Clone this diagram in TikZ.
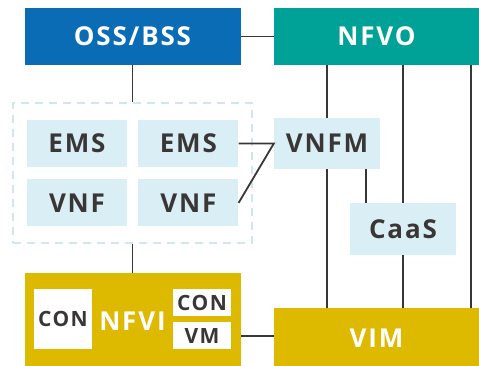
\documentclass[tikz,border=0pt]{standalone}
\usepackage{fontspec}
\setmainfont{Open Sans}[LetterSpace=7]
\usetikzlibrary{positioning}

\definecolor{ossblue}{HTML}{0B6CB6}
\definecolor{nfvoteal}{HTML}{00A197}
\definecolor{infrayellow}{HTML}{DDB900}
\definecolor{paleblue}{HTML}{DAEEF6}
\definecolor{dashblue}{HTML}{CFE7F1}
\definecolor{inkgrey}{HTML}{3B3636}

\tikzset{
    blk/.style={inner sep=0pt, font=\fontsize{26}{29}\selectfont\bfseries},
    topblk/.style={blk, text=white, minimum height=57pt},
    vnfblk/.style={blk, fill=paleblue, text=inkgrey, minimum width=100pt, minimum height=47pt},
    conblk/.style={inner sep=0pt, fill=white, text=inkgrey, minimum width=58pt,
        font=\fontsize{21}{24}\selectfont\bfseries},
    wire/.style={draw=inkgrey, line width=1.8pt}
}

\begin{document}
\begin{tikzpicture}[x=1pt, y=-1pt]
\useasboundingbox (0,0) rectangle (479,365);

\node[topblk, fill=ossblue, minimum width=216pt] (oss) at (132.5,36.5) {OSS/BSS};
\node[topblk, fill=nfvoteal, minimum width=205pt] (nfvo) at (376.5,36.5) {NFVO};
\draw[wire] (oss) -- (nfvo);

% VNF group
\node[draw=dashblue, line width=2pt, dash pattern=on 8pt off 6pt, inner sep=0pt,
    minimum width=239pt, minimum height=140pt] (grp) at (132.5,173) {};
\node[vnfblk] (ems1) at (77,143.5) {EMS};
\node[vnfblk, right=11pt of ems1] (ems2) {EMS};
\node[vnfblk, below=12pt of ems1] (vnf1) {VNF};
\node[vnfblk, below=12pt of ems2] (vnf2) {VNF};

\node[blk, fill=paleblue, text=inkgrey, minimum width=106pt, minimum height=51pt] (vnfm) at (327,143.5) {VNFM};
\node[blk, fill=paleblue, text=inkgrey, minimum width=106pt, minimum height=52pt] (caas) at (403,229) {CaaS};

% infrastructure
\node[blk, fill=infrayellow, text=white, minimum width=216pt, minimum height=96pt] (nfvi) at (132.5,321) {NFVI};
\node[conblk, minimum height=60pt] (con1) at (63,319) {CON};
\node[conblk, minimum height=27pt] (con2) at (202,302.5) {CON};
\node[conblk, minimum height=27pt, below=6pt of con2] (vm) {VM};
\node[topblk, fill=infrayellow, minimum width=205pt, minimum height=61pt] (vim) at (376.5,338.5) {VIM};

\draw[wire] (oss) -- (grp);
\draw[wire] (grp) -- (nfvi);
\draw[wire] (vim.west |- vm) -- (vm -| nfvi.east);
\draw[wire] (ems2.east) -- (vnfm.west) -- (vnf2.east);

\draw[wire] (nfvo.south -| vnfm) -- (vnfm.north);
\draw[wire] (vnfm.south) -- (vim.north -| vnfm);
\draw[wire] (nfvo.south -| caas) -- (caas.north);
\draw[wire] (caas.south) -- (vim.north -| caas);
\draw[wire] ([xshift=-8pt]nfvo.south east) -- ([xshift=-8pt]vim.north east);
\draw[wire] ([xshift=39pt]vnfm.south) -- ([xshift=39pt]vnfm.south |- caas.north);
\end{tikzpicture}
\end{document}
